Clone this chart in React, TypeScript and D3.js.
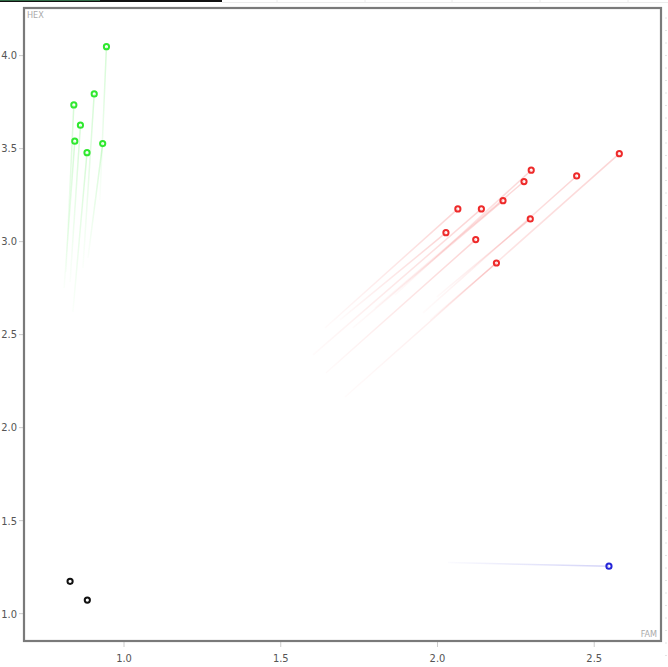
import React from "react";
import * as d3 from "d3";

// Series: current position (x = FAM, y = HEX) and trail start (tx, ty)
const greenX = [0.944, 0.840, 0.905, 0.861, 0.843, 0.882, 0.932];
const greenY = [4.048, 3.735, 3.794, 3.626, 3.540, 3.478, 3.527];
const greenTX = [0.923, 0.815, 0.869, 0.828, 0.809, 0.837, 0.885];
const greenTY = [3.224, 2.837, 2.859, 2.783, 2.751, 2.622, 2.912];

const redX = [2.580, 2.444, 2.299, 2.276, 2.209, 2.140, 2.065, 2.027, 2.122, 2.296, 2.188];
const redY = [3.473, 3.353, 3.384, 3.323, 3.220, 3.176, 3.176, 3.048, 3.011, 3.122, 2.885];
const redTX = [1.705, 1.954, 1.864, 1.801, 1.730, 1.603, 1.641, 1.689, 1.644, 1.998, 1.976];
const redTY = [2.165, 2.617, 2.713, 2.644, 2.536, 2.391, 2.536, 2.579, 2.294, 2.703, 2.578];

const blueX = [2.547];
const blueY = [1.255];
const blueTX = [2.034];
const blueTY = [1.275];

const blackX = [0.828, 0.883];
const blackY = [1.174, 1.073];
const blackTX = [0.828, 0.883];
const blackTY = [1.174, 1.073];

const xTicks = [1.0, 1.5, 2.0, 2.5];
const yTicks = [1.0, 1.5, 2.0, 2.5, 3.0, 3.5, 4.0];
const xLabel = "FAM";
const yLabel = "HEX";

const W = 668;
const H = 667;
const L = 24, T = 8, R = 661, B = 641;

const series = [
  { name: "green", color: "#2fe82f", x: greenX, y: greenY, tx: greenTX, ty: greenTY },
  { name: "red", color: "#ee2a2a", x: redX, y: redY, tx: redTX, ty: redTY },
  { name: "blue", color: "#2424d8", x: blueX, y: blueY, tx: blueTX, ty: blueTY },
  { name: "black", color: "#111111", x: blackX, y: blackY, tx: blackTX, ty: blackTY },
];

export default function App() {
  const xs = d3.scaleLinear().domain([0.681, 2.713]).range([L, R]);
  const ys = d3.scaleLinear().domain([0.853, 4.256]).range([B, T]);
  const fmt = d3.format(".1f");

  const trails: any[] = [];
  series.forEach((s) => {
    s.x.forEach((_, i) => {
      trails.push({ id: `${s.name}-${i}`, color: s.color, x1: xs(s.tx[i]), y1: ys(s.ty[i]), x2: xs(s.x[i]), y2: ys(s.y[i]) });
    });
  });

  return (
    <svg width={W} height={H} style={{ position: "absolute", left: 0, top: 0, background: "#fff" }}
      fontFamily="'DejaVu Sans Condensed', 'DejaVu Sans', sans-serif">
      <defs>
        {trails.map((t) => (
          <linearGradient key={t.id} id={`g-${t.id}`} gradientUnits="userSpaceOnUse" x1={t.x1} y1={t.y1} x2={t.x2} y2={t.y2}>
            <stop offset="0" stopColor={t.color} stopOpacity={0.02} />
            <stop offset="1" stopColor={t.color} stopOpacity={0.2} />
          </linearGradient>
        ))}
      </defs>
      {/* neighbouring artifacts at top */}
      <rect x={0} y={0} width={222} height={2} fill="#111" />
      <rect x={0} y={0} width={100} height={1} fill="#2f6b45" />
      <line x1={222} y1={2.5} x2={668} y2={2.5} stroke="#ececec" strokeWidth={1} />
      {[277, 365, 452, 540, 628].map((x) => (
        <line key={x} x1={x} y1={0} x2={x} y2={3} stroke="#ececec" strokeWidth={1} />
      ))}
      {d3.range(18, 667, 12.5).map((y) => (
        <line key={y} x1={665} y1={y} x2={667} y2={y} stroke="#e4e4e4" strokeWidth={1} />
      ))}

      {/* y axis */}
      {yTicks.map((v) => (
        <g key={v}>
          <line x1={L - 5} x2={L - 1} y1={ys(v)} y2={ys(v)} stroke="#ccc" />
          <text x={17} y={ys(v)} dy="0.35em" textAnchor="end" fontSize={11} fill="#555">{fmt(v)}</text>
        </g>
      ))}
      {/* x axis */}
      {xTicks.map((v) => (
        <g key={v}>
          <line x1={xs(v)} x2={xs(v)} y1={B + 1} y2={B + 6} stroke="#ccc" />
          <text x={xs(v)} y={662} textAnchor="middle" fontSize={11} fill="#555">{fmt(v)}</text>
        </g>
      ))}

      {/* trails */}
      {trails.map((t) => (
        <line key={t.id} x1={t.x1} y1={t.y1} x2={t.x2} y2={t.y2} stroke={`url(#g-${t.id})`} strokeWidth={1.5} />
      ))}

      {/* points */}
      {series.map((s) =>
        s.x.map((xv, i) => (
          <circle key={`${s.name}-p-${i}`} cx={xs(xv)} cy={ys(s.y[i])} r={2.6} fill="none" stroke={s.color} strokeWidth={2} />
        ))
      )}

      {/* frame */}
      <rect x={L} y={T} width={R - L} height={B - T} fill="none" stroke="#7a7a7a" strokeWidth={2.2} />
      <text x={L + 3} y={T + 10} fontSize={9} fill="#aaa">{yLabel}</text>
      <text x={R - 4} y={B - 4} fontSize={9} fill="#aaa" textAnchor="end">{xLabel}</text>
    </svg>
  );
}
